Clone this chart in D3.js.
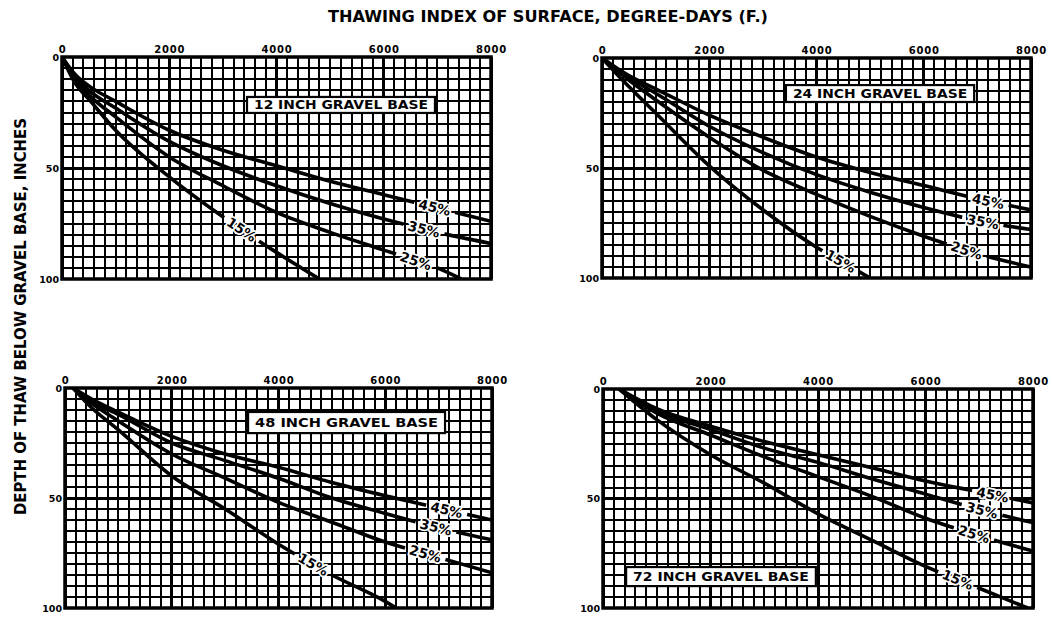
<!DOCTYPE html>
<html><head><meta charset="utf-8">
<script src="https://cdn.jsdelivr.net/npm/d3@7"></script>
<style>body{margin:0;background:#fff} svg{display:block}</style>
</head><body><svg id="c" width="1052" height="618"></svg>
<script>
// ---------------- DATA ----------------
const xTickValues = [0, 2000, 4000, 6000, 8000];   // thawing index, degree-days (F)
const yTickValues = [0, 50, 100];                   // depth of thaw, inches
const moisture = ["45%", "35%", "25%", "15%"];
const baseTitles = ["12 INCH GRAVEL BASE", "24 INCH GRAVEL BASE", "48 INCH GRAVEL BASE", "72 INCH GRAVEL BASE"];

// 12 inch gravel base
const base12_45 = [[0,0],[250,8],[500,13],[1000,20],[2000,33],[3000,42],[4000,49],[5000,56],[6000,62],[7000,68],[8000,74]];
const base12_35 = [[0,0],[250,9],[500,15],[1000,23],[2000,38],[3000,49],[4000,58],[5000,66],[6000,73],[7000,79],[8000,84]];
const base12_25 = [[0,0],[250,10],[500,17],[1000,27],[2000,45],[3000,58],[4000,70],[5000,79],[6000,87],[7000,95],[7450,100]];
const base12_15 = [[0,0],[250,12],[500,19],[1000,33],[2000,54],[3000,72],[4000,88],[4800,100]];
// 24 inch gravel base
const base24_45 = [[0,0],[500,8],[1000,14],[2000,26],[3000,36],[4000,45],[5000,52],[6000,58],[7000,64],[8000,69]];
const base24_35 = [[0,0],[500,9],[1000,16],[2000,31],[3000,43],[4000,53],[5000,61],[6000,68],[7000,74],[8000,78]];
const base24_25 = [[0,0],[500,10],[1000,19],[2000,36],[3000,51],[4000,62],[5000,72],[6000,81],[7000,89],[8000,95]];
const base24_15 = [[0,0],[500,13],[1000,25],[2000,49],[3000,69],[4000,86],[4500,93],[5000,100]];
// 48 inch gravel base
const base48_45 = [[150,0],[500,5],[1000,11],[2000,22],[3000,30],[4000,36],[5000,43],[6000,49],[7000,54.5],[8000,60]];
const base48_35 = [[150,0],[500,6],[1000,12],[2000,25],[3000,33],[4000,41],[5000,50],[6000,57],[7000,63.5],[8000,69]];
const base48_25 = [[150,0],[500,7],[1000,15],[2000,30],[3000,41],[4000,52],[5000,61],[6000,70],[7000,77],[8000,84]];
const base48_15 = [[150,0],[500,9],[1000,19],[2000,40],[3000,55],[4000,71],[5000,85],[6000,97],[6200,100]];
// 72 inch gravel base
const base72_45 = [[300,0],[1000,9],[2000,17],[3000,24],[4000,30],[5000,36],[6000,42],[7000,47],[8000,52]];
const base72_35 = [[300,0],[1000,10],[2000,18.5],[3000,27],[4000,33.5],[5000,41],[6000,48],[7000,55],[8000,61]];
const base72_25 = [[300,0],[1000,11],[2000,21],[3000,31],[4000,40],[5000,49],[6000,59],[7000,67],[8000,74]];
const base72_15 = [[300,0],[1000,14],[2000,30],[3000,43],[4000,57],[5000,69],[6000,81],[7000,91],[7900,100]];

// label positions along each curve (degree-days), order 45,35,25,15
const labelAt12 = [6950, 6750, 6600, 3350];
const labelAt24 = [7200, 7100, 6800, 4450];
const labelAt48 = [7150, 6950, 6750, 4650];
const labelAt72 = [7250, 7050, 6900, 6600];

// title box extents in data units [v0, v1, d0, d1]
const box12 = [3450, 6955, 18, 25.2];
const box24 = [3430, 6940, 12.3, 20];
const box48 = [3430, 7120, 10.9, 20.5];
const box72 = [430, 3960, 81.3, 90];

// ---------------- LAYOUT ----------------
const panels = [
  {x:62,  y:57,  w:429, h:222, series:[base12_45,base12_35,base12_25,base12_15], labels:labelAt12, box:box12},
  {x:602, y:58,  w:429, h:220, series:[base24_45,base24_35,base24_25,base24_15], labels:labelAt24, box:box24},
  {x:65,  y:388, w:427, h:220, series:[base48_45,base48_35,base48_25,base48_15], labels:labelAt48, box:box48},
  {x:603, y:389, w:430, h:219, series:[base72_45,base72_35,base72_25,base72_15], labels:labelAt72, box:box72}
];

const FONT = "'DejaVu Sans', 'Liberation Sans', sans-serif";
const svg = d3.select("#c");
const defs = svg.append("defs");

svg.append("text")
  .attr("x", 548).attr("y", 22)
  .attr("text-anchor", "middle")
  .attr("font-family", FONT).attr("font-weight", "bold").attr("font-size", 15)
  .attr("textLength", 440).attr("lengthAdjust", "spacingAndGlyphs")
  .text("THAWING INDEX OF SURFACE, DEGREE-DAYS (F.)");

svg.append("text")
  .attr("transform", "translate(26,316.5) rotate(-90)")
  .attr("text-anchor", "middle")
  .attr("font-family", FONT).attr("font-weight", "bold").attr("font-size", 15)
  .attr("textLength", 397).attr("lengthAdjust", "spacingAndGlyphs")
  .text("DEPTH OF THAW BELOW GRAVEL BASE, INCHES");

function interp(data, v) {
  const i = d3.bisector(d => d[0]).left(data, v);
  if (i <= 0) return data[0][1];
  if (i >= data.length) return data[data.length - 1][1];
  const a = data[i - 1], b = data[i];
  return a[1] + (b[1] - a[1]) * (v - a[0]) / (b[0] - a[0]);
}

panels.forEach((p, pi) => {
  const g = svg.append("g").attr("transform", `translate(${p.x},${p.y})`);
  const x = d3.scaleLinear([0, 8000], [0, p.w]);
  const y = d3.scaleLinear([0, 100], [0, p.h]);

  // minor grid
  const grid = g.append("g").attr("stroke", "#000").attr("shape-rendering", "crispEdges");
  grid.selectAll("line.vx").data(d3.range(0, 8001, 200)).join("line")
    .attr("x1", d => x(d)).attr("x2", d => x(d)).attr("y1", 0).attr("y2", p.h)
    .attr("stroke-width", 2);
  grid.selectAll("line.hy").data(d3.range(0, 101, 5)).join("line")
    .attr("class", "hy")
    .attr("x1", 0).attr("x2", p.w).attr("y1", d => y(d)).attr("y2", d => y(d))
    .attr("stroke-width", 2);
  // major grid
  grid.selectAll("line.mx").data(d3.range(0, 8001, 2000)).join("line")
    .attr("class", "mx")
    .attr("x1", d => x(d)).attr("x2", d => x(d)).attr("y1", 0).attr("y2", p.h)
    .attr("stroke-width", 3);
  grid.selectAll("line.my").data([50]).join("line")
    .attr("class", "my")
    .attr("x1", 0).attr("x2", p.w).attr("y1", d => y(d)).attr("y2", d => y(d))
    .attr("stroke-width", 3);
  g.append("rect").attr("x", 0).attr("y", 0).attr("width", p.w).attr("height", p.h)
    .attr("fill", "none").attr("stroke", "#000").attr("stroke-width", 3.5);

  // axes
  const ax = g.append("g").call(d3.axisTop(x).tickValues(xTickValues).tickSize(0).tickPadding(4).tickFormat(d3.format("d")));
  ax.select(".domain").remove();
  ax.selectAll("text").attr("font-family", FONT).attr("font-weight", "bold").attr("font-size", 10).attr("letter-spacing", 0.8).attr("fill", "#000");
  const ay = g.append("g").call(d3.axisLeft(y).tickValues(yTickValues).tickSize(0).tickPadding(3).tickFormat(d3.format("d")));
  ay.select(".domain").remove();
  ay.selectAll("text").attr("font-family", FONT).attr("font-weight", "bold").attr("font-size", 9.5).attr("fill", "#000");

  // clip
  defs.append("clipPath").attr("id", `clip${pi}`)
    .append("rect").attr("x", 0).attr("y", 0).attr("width", p.w).attr("height", p.h);

  const line = d3.line().x(d => x(d[0])).y(d => y(d[1])).curve(d3.curveMonotoneX);
  const curves = g.append("g").attr("clip-path", `url(#clip${pi})`);
  const labelLayer = [];

  p.series.forEach((data, si) => {
    const v = p.labels[si];
    const lx = x(v), ly = y(interp(data, v));
    const dx = x(v + 200) - x(v - 200);
    const dy = y(interp(data, v + 200)) - y(interp(data, v - 200));
    const ang = Math.atan2(dy, dx) * 180 / Math.PI;
    const gap = 42;
    const m = defs.append("mask").attr("id", `m${pi}_${si}`)
      .attr("maskUnits", "userSpaceOnUse")
      .attr("x", -20).attr("y", -20).attr("width", p.w + 40).attr("height", p.h + 40);
    m.append("rect").attr("x", -20).attr("y", -20).attr("width", p.w + 40).attr("height", p.h + 40).attr("fill", "#fff");
    m.append("rect").attr("transform", `translate(${lx},${ly}) rotate(${ang})`)
      .attr("x", -gap / 2).attr("y", -8).attr("width", gap).attr("height", 16).attr("fill", "#000");

    curves.append("path").attr("d", line(data))
      .attr("fill", "none").attr("stroke", "#000").attr("stroke-width", 3.6)
      .attr("stroke-linejoin", "round")
      .attr("mask", `url(#m${pi}_${si})`);
    labelLayer.push({lx, ly, ang, t: moisture[si]});
  });

  labelLayer.forEach(L => {
    g.append("text").attr("transform", `translate(${L.lx},${L.ly}) rotate(${L.ang})`)
      .attr("text-anchor", "middle").attr("dominant-baseline", "central")
      .attr("font-family", FONT).attr("font-weight", "bold").attr("font-size", 13.5)
      .attr("fill", "#000").attr("stroke", "#fff").attr("stroke-width", 3.5)
      .attr("stroke-linejoin", "round").attr("paint-order", "stroke")
      .text(L.t);
  });

  // title box
  const b = p.box;
  g.append("rect").attr("x", x(b[0])).attr("y", y(b[2]))
    .attr("width", x(b[1]) - x(b[0])).attr("height", y(b[3]) - y(b[2]))
    .attr("fill", "#fff").attr("stroke", "#000").attr("stroke-width", 2.2);
  g.append("text").attr("x", (x(b[0]) + x(b[1])) / 2).attr("y", (y(b[2]) + y(b[3])) / 2)
    .attr("text-anchor", "middle").attr("dominant-baseline", "central")
    .attr("font-family", FONT).attr("font-weight", "bold").attr("font-size", 12.5)
    .attr("textLength", x(b[1]) - x(b[0]) - 14).attr("lengthAdjust", "spacingAndGlyphs")
    .text(baseTitles[pi]);
});
</script></body></html>
